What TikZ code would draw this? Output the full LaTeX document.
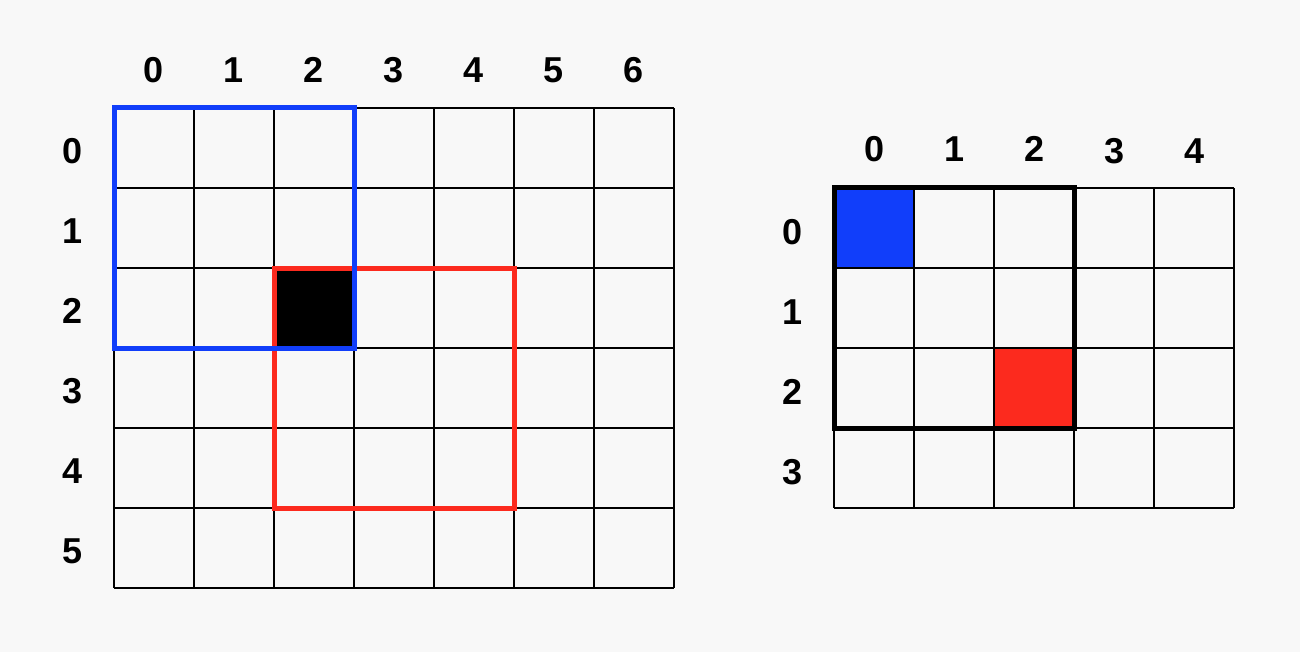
\documentclass[tikz,border=0pt]{standalone}
\usepackage{fontspec}
\setmainfont{Liberation Sans}
\definecolor{bgc}{RGB}{248,248,248}
\definecolor{bblue}{RGB}{17,62,250}
\definecolor{rred}{RGB}{252,42,30}
\begin{document}
\begin{tikzpicture}[x=1pt,y=-1pt,
  lbl/.style={font=\fontsize{36}{40}\selectfont\bfseries, inner sep=0pt, anchor=center},
  gridline/.style={line width=2pt, line cap=square},
  winbox/.style={line width=5pt, line cap=square}]
\useasboundingbox (0,0) rectangle (1300,652);
\fill[bgc] (0,0) rectangle (1300,652);
% ---- left grid (7 x 6) ----
\fill[black] (274,268) rectangle (354,348);
\foreach \i in {0,...,7} \draw[gridline] ({114+80*\i},108) -- ({114+80*\i},588);
\foreach \j in {0,...,6} \draw[gridline] (114,{108+80*\j}) -- (674,{108+80*\j});
\draw[winbox, rred] (274,268) rectangle (514,508);
\draw[winbox, bblue] (114,108) rectangle (354,348);
\foreach \i in {0,...,6} \node[lbl] (lc\i) at ({154+80*\i},70) {\i};
\foreach \j in {0,...,5} \node[lbl] (lr\j) at (73,{151+80*\j}) {\j};
% ---- right grid (5 x 4) ----
\fill[bblue] (834,188) rectangle (914,268);
\fill[rred] (994,348) rectangle (1074,428);
\foreach \i in {0,...,5} \draw[gridline] ({834+80*\i},188) -- ({834+80*\i},508);
\foreach \j in {0,...,4} \draw[gridline] (834,{188+80*\j}) -- (1234,{188+80*\j});
\draw[winbox, black] (834,188) rectangle (1074,428);
\foreach \i in {0,1,2} \node[lbl] (rc\i) at ({874+80*\i},149) {\i};
\foreach \i in {3,4} \node[lbl] (rc\i) at ({874+80*\i},151) {\i};
\foreach \j in {0,...,3} \node[lbl] (rr\j) at (792,{232+80*\j}) {\j};
\end{tikzpicture}
\end{document}
